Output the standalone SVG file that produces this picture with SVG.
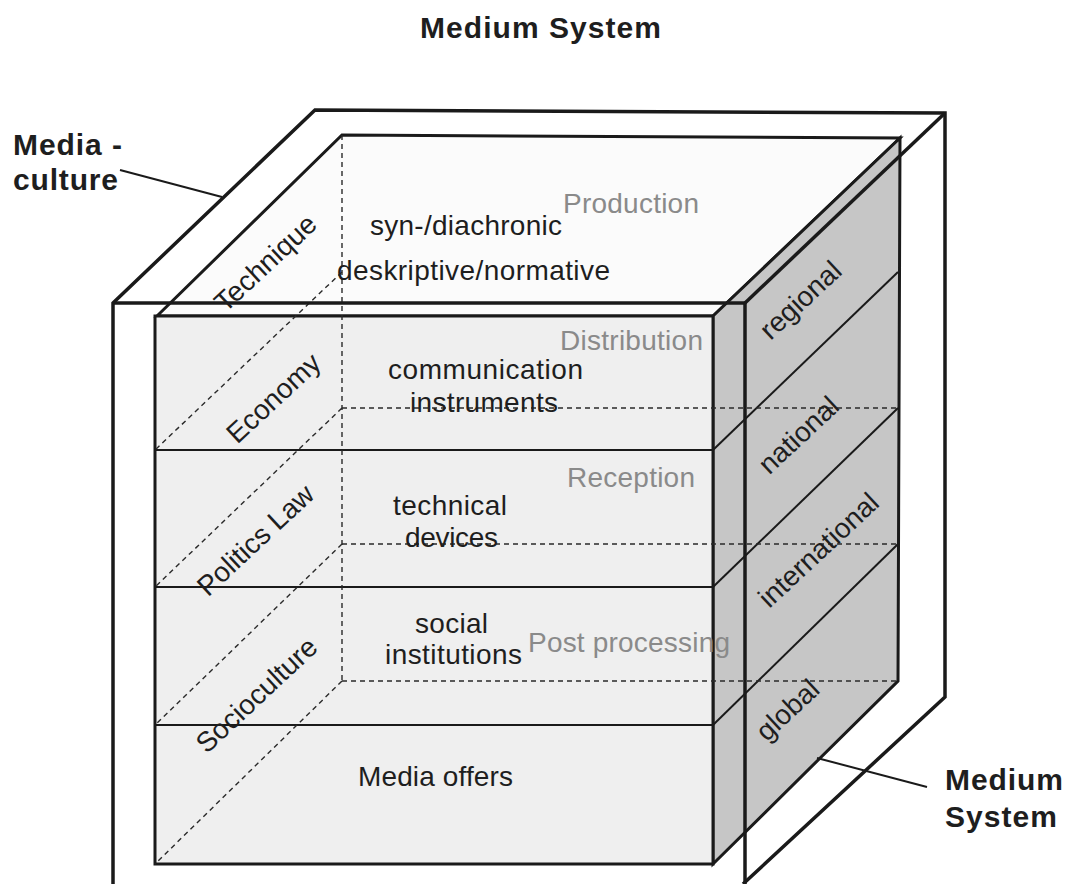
<svg xmlns="http://www.w3.org/2000/svg" width="1069" height="884" viewBox="0 0 1069 884">
<style>
.t{font-family:"Liberation Sans",Arial,sans-serif;font-size:28px;fill:#1e1e1e}
.g{fill:#8a8a8a}
.b{font-weight:bold;font-size:30px;fill:#1e1e1e;font-family:"Liberation Sans",Arial,sans-serif}
.edge{stroke:#1a1a1a;stroke-width:3;stroke-linejoin:miter}
.thin{stroke:#1a1a1a;stroke-width:2;fill:none}
.dash{stroke:#2a2a2a;stroke-width:1.4;stroke-dasharray:5 4;fill:none}
.frame{stroke:#1a1a1a;stroke-width:3.5;fill:none}
</style>
<rect width="1069" height="884" fill="#ffffff"/>
<g id="title"><text class="b" x="420" y="38" font-size="31" textLength="241">Medium System</text></g>

<g id="cube">
  <polygon id="top-face" points="157,316 342,135 900,138 713,316" style="fill:#fbfbfb" class="edge"/>
  <polygon id="side-face" points="713,316 900,138 898,681 713,864" style="fill:#c6c6c6" class="edge"/>
  <rect id="front-face" x="155" y="316" width="558" height="548" style="fill:#efefef" class="edge"/>
  <g id="layers">
    <line class="thin" x1="155" y1="450" x2="713" y2="450"/>
    <line class="thin" x1="155" y1="587" x2="713" y2="587"/>
    <line class="thin" x1="155" y1="725" x2="713" y2="725"/>
    <line class="thin" x1="713" y1="450" x2="898" y2="272"/>
    <line class="thin" x1="713" y1="587" x2="898" y2="408"/>
    <line class="thin" x1="713" y1="725" x2="898" y2="544"/>
  </g>
  <g id="hidden">
    <line class="dash" x1="342" y1="135" x2="342" y2="681"/>
    <line class="dash" x1="342" y1="408" x2="898" y2="408"/>
    <line class="dash" x1="342" y1="544" x2="898" y2="544"/>
    <line class="dash" x1="342" y1="681" x2="898" y2="681"/>
    <line class="dash" x1="342" y1="272" x2="155" y2="450"/>
    <line class="dash" x1="342" y1="408" x2="155" y2="587"/>
    <line class="dash" x1="342" y1="544" x2="155" y2="725"/>
    <line class="dash" x1="342" y1="681" x2="155" y2="864"/>
  </g>
</g>

<g id="frame">
  <polyline class="frame" points="113,886 113,303 315,110 945,113 945,697 743,884"/>
  <line class="frame" x1="113" y1="303" x2="745" y2="303"/>
  <line class="frame" x1="745" y1="303" x2="945" y2="113"/>
  <line class="frame" x1="745" y1="303" x2="745" y2="886"/>
</g>

<g id="labels">
  <text class="t" x="370" y="235" textLength="192">syn-/diachronic</text>
  <text class="t g" x="563" y="213" textLength="136">Production</text>
  <text class="t" x="337" y="280" textLength="273">deskriptive/normative</text>
  <text class="t g" x="560" y="350" textLength="143">Distribution</text>
  <text class="t" x="388" y="379" textLength="195">communication</text>
  <text class="t" x="410" y="412" textLength="148">instruments</text>
  <text class="t g" x="567" y="487" textLength="128">Reception</text>
  <text class="t" x="393" y="515" textLength="114">technical</text>
  <text class="t" x="405" y="547" textLength="93">devices</text>
  <text class="t" x="415" y="633" textLength="73">social</text>
  <text class="t" x="385" y="664" textLength="137">institutions</text>
  <text class="t g" x="528" y="652" textLength="202">Post processing</text>
  <text class="t" x="358" y="786" textLength="155">Media offers</text>
</g>

<g id="dimension-labels" text-anchor="middle">
  <text class="t" transform="translate(272,270) rotate(-43)">Technique</text>
  <text class="t" transform="translate(280,405) rotate(-43)">Economy</text>
  <text class="t" transform="translate(262,547) rotate(-43)">Politics Law</text>
  <text class="t" transform="translate(263,702) rotate(-43)">Socioculture</text>
  <text class="t" transform="translate(807,307) rotate(-43)">regional</text>
  <text class="t" transform="translate(805,442) rotate(-43)">national</text>
  <text class="t" transform="translate(825,557) rotate(-43)">international</text>
  <text class="t" transform="translate(794,717) rotate(-43)">global</text>
</g>

<g id="media-culture-label">
  <text class="b" x="13" y="155" textLength="109">Media -</text>
  <text class="b" x="13" y="190" textLength="105">culture</text>
</g>
<g id="medium-system-label">
  <text class="b" x="945" y="790" font-size="31" textLength="118">Medium</text>
  <text class="b" x="945" y="827" font-size="31" textLength="112">System</text>
</g>

<g id="connectors">
  <line class="thin" stroke-width="2.5" x1="120" y1="170" x2="222" y2="197"/>
  <line class="thin" stroke-width="2.5" x1="817" y1="758" x2="927" y2="787"/>
</g>
</svg>
